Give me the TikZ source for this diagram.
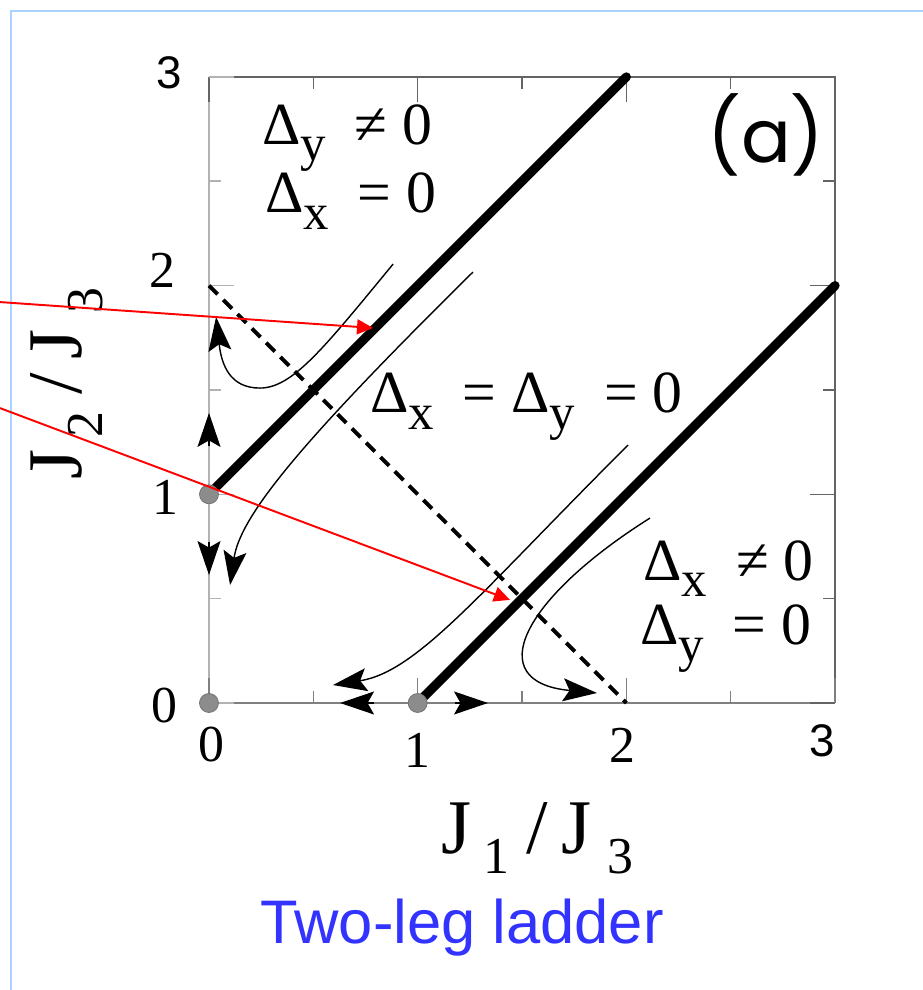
\documentclass[tikz,border=0pt]{standalone}
\usepackage{fontspec}
\setmainfont{Liberation Serif}
\newfontfamily\sanslab{Liberation Sans}
\newfontfamily\roundlab{Poppins}
\usetikzlibrary{arrows.meta}
\definecolor{slideblue}{RGB}{51,51,255}
\definecolor{framegray}{RGB}{100,100,100}
\definecolor{dotgray}{RGB}{140,140,140}
\definecolor{edgeblue}{RGB}{170,210,255}
\newcommand\lowsub[2][0.85]{\raisebox{-0.27em}{\scalebox{#1}{#2}}}
\newcommand\Dsub[1]{\makebox[1.55em][l]{Δ\lowsub{#1}}}

\begin{document}
\begin{tikzpicture}[
  x=4.174cm,y=4.174cm,
  axis/.style={draw=framegray,line width=0.85pt},
  phaseline/.style={line width=5.2pt,line cap=round},
  flow/.style={line width=0.8pt,-{Stealth[length=0.68cm,width=0.46cm,inset=0.13cm]}},
  axarrow/.style={line width=0.8pt,-{Stealth[length=0.68cm,width=0.46cm,inset=0.13cm]}},
  dot/.style={circle,fill=dotgray,draw=dotgray!80!black,line width=0.4pt,minimum size=0.38cm,inner sep=0},
  ticklab/.style={font=\fontsize{29.5}{30}\selectfont,inner sep=0},
  phase/.style={font=\fontsize{34}{36}\selectfont,anchor=base west,inner sep=0},
  axlab/.style={font=\fontsize{44}{46}\selectfont,anchor=base,inner sep=0},
  pointer/.style={red,line width=1.1pt,-{Triangle[length=0.32cm,width=0.3cm]}}
]
\useasboundingbox (-1.0014,-1.3752) rectangle (3.4212,3.3685);
\draw[edgeblue,line width=1.1pt] (-0.9487,-1.3752) -- (-0.9487,3.3157) -- (3.4212,3.3157);

% frame and ticks
\draw[axis,draw=black!30] (0,0) -- (0,3);
\draw[axis,draw=black!50] (0,0) -- (3,0);
\draw[axis] (0,3) -- (3,3) -- (3,0);
\foreach \t in {0,1,2,3} {
  \draw[axis,draw=black!30] (0,\t) -- ++(0.12,0);
  \draw[axis,draw=black!50] (\t,0) -- ++(0,0.12);
  \draw[axis] (\t,3) -- ++(0,-0.12) (3,\t) -- ++(-0.12,0);
}
\foreach \t in {0.5,1.5,2.5} {
  \draw[axis,draw=black!30] (0,\t) -- ++(0.0575,0);
  \draw[axis,draw=black!50] (\t,0) -- ++(0,0.0575);
  \draw[axis] (\t,3) -- ++(0,-0.0575) (3,\t) -- ++(-0.0575,0);
}

\coordinate (o1) at (0,1);
\coordinate (o0) at (0,0);
\coordinate (o2) at (0,2);
\coordinate (a1) at (1,0);
\coordinate (a2) at (2,0);
\coordinate (top) at (2,3);
\coordinate (rgt) at (3,2);

% critical lines
\draw[line width=2.2pt,dash pattern=on 7pt off 4.5pt] (o2) -- (a2);
\draw[phaseline] (o1) -- (top);
\draw[phaseline] (a1) -- (rgt);

% flows
\draw[flow] (0.882,2.103) .. controls (0.55,1.70) and (0.40,1.509) .. (0.244,1.509)
  .. controls (0.10,1.509) and (0.06,1.62) .. (0.034,1.85);
\draw[flow] (1.265,2.065) .. controls (0.45,1.26) and (0.15,0.9) .. (0.101,0.565);
\draw[flow] (2.008,1.236) .. controls (1.3,0.53) and (1.0,0.15) .. (0.594,0.086);
\draw[flow] (2.113,0.886) .. controls (1.5,0.5) and (1.30,0.1) .. (1.859,0.048);
\draw[axarrow] (0,1.23) -- (0,1.39);
\draw[axarrow] (0,0.77) -- (0,0.613);
\draw[axarrow] (0.79,0) -- (0.628,0);
\draw[axarrow] (1.18,0) -- (1.337,0);

\node[dot] (d01) at (o1) {};
\node[dot] (d00) at (o0) {};
\node[dot] (d10) at (a1) {};

% tick labels
\node[ticklab,font=\sanslab\fontsize{26}{28}\selectfont] (ly3) at (-0.191,3.019) {3};
\node[ticklab] (ly2) at (-0.225,2.075) {2};
\node[ticklab] (ly1) at (-0.208,0.985) {1};
\node[ticklab] (ly0) at (-0.211,-0.010) {0};
\node[ticklab] (lx0) at (0.010,-0.201) {0};
\node[ticklab] (lx1) at (1.001,-0.225) {1};
\node[ticklab] (lx2) at (1.979,-0.201) {2};
\node[ticklab,font=\sanslab\fontsize{26}{28}\selectfont] (lx3) at (2.937,-0.182) {3};

% phases
\node[phase] (dy1) at (0.254,2.678) {\Dsub{y}≠ 0};
\node[phase] (dx1) at (0.268,2.348) {\Dsub{x}= 0};
\node[phase] (dxy) at (0.771,1.390) {\Dsub{x}= \Dsub{y}= 0};
\node[phase] (dx2) at (2.080,0.589) {\Dsub{x}≠ 0};
\node[phase] (dy2) at (2.065,0.278) {\Dsub{y}= 0};
\node[inner sep=0,font=\roundlab\fontsize{42}{44}\selectfont] (tag) at (2.669,2.722) {(a)};

% axis titles
\node[axlab] (xlab) at (1.574,-0.719) {J\hspace{0.15em}\lowsub[0.67]{1}\hspace{0.22em}/\hspace{0.18em}J\hspace{0.2em}\lowsub[0.67]{3}};
\node[axlab,rotate=90] (ylab) at (-0.6085,1.531) {J\hspace{0.15em}\lowsub[0.67]{2}\hspace{0.22em}/\hspace{0.18em}J\hspace{0.2em}\lowsub[0.67]{3}};
\node[font=\sanslab\fontsize{35}{37}\selectfont,text=slideblue,anchor=base] (cap) at (1.212,-1.154) {Two-leg ladder};

% pointers from outside
\coordinate (p1) at (-1.0014,1.921);
\coordinate (q1) at (0.786,1.797);
\coordinate (p2) at (-1.0014,1.413);
\coordinate (q2) at (1.442,0.494);
\draw[pointer] (p1) -- (q1);
\draw[pointer] (p2) -- (q2);
\end{tikzpicture}
\end{document}
